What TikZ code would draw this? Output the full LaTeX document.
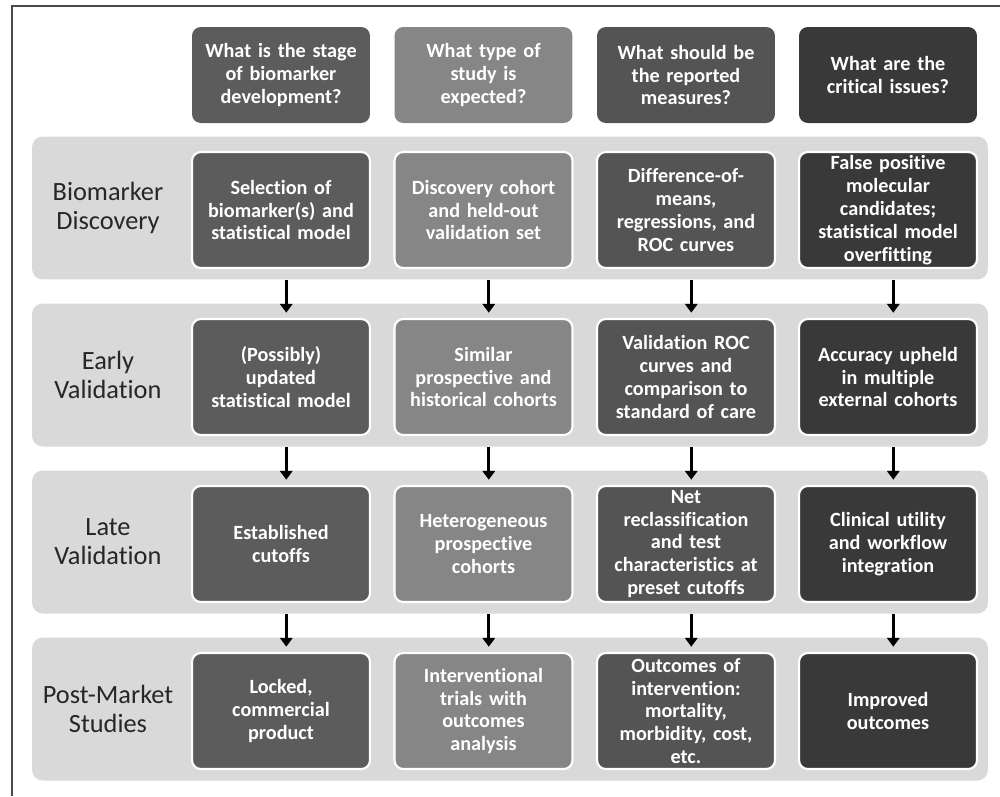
\documentclass[tikz,border=0pt]{standalone}
\usepackage{fontspec}
\setmainfont{Carlito}[Ligatures={NoCommon,NoContextual}]
\usetikzlibrary{arrows.meta, positioning}
\definecolor{colone}{HTML}{5C5C5C}
\definecolor{coltwo}{HTML}{868686}
\definecolor{colthree}{HTML}{545454}
\definecolor{colfour}{HTML}{393939}
\definecolor{bandcol}{HTML}{D9D9D9}
\definecolor{framecol}{HTML}{4A4A4A}
\tikzset{
  qnode/.style={rectangle, rounded corners=5pt, minimum width=3.56cm, minimum height=1.92cm, text width=3.3cm, align=center, inner sep=0pt, font=\bfseries\fontsize{11.5}{13}\selectfont, text=white},
  cnode/.style={rectangle, rounded corners=5pt, draw=white, line width=1.2pt, minimum width=3.56cm, minimum height=2.32cm, text width=3.3cm, align=center, inner sep=0pt, font=\bfseries\fontsize{11.5}{13}\selectfont, text=white},
  bnode/.style={rectangle, rounded corners=6pt, fill=bandcol, minimum width=19.12cm, minimum height=2.86cm, inner sep=0pt},
  lnode/.style={align=center, font=\fontsize{15}{16.5}\selectfont, text=black!85},
  arr/.style={-{Triangle[width=7pt,length=5pt]}, line width=1.8pt, shorten <=6.5pt, shorten >=3pt},
}

\begin{document}
\begin{tikzpicture}[x=0.02cm, y=-0.02cm]
  \useasboundingbox (0,0) rectangle (1000,796);
  \draw[framecol, line width=0.8pt] (12,796) -- (12,6) -- (1000,6);
  % questions
  \node[qnode, fill=colone]   (q1) at (281,75)   {What is the stage\\of biomarker\\development?};
  \node[qnode, fill=coltwo]   (q2) at (483.5,75) {What type of\\study is\\expected?};
  \node[qnode, fill=colthree] (q3) at (686,75)   {What should be\\the reported\\measures?};
  \node[qnode, fill=colfour]  (q4) at (888,75)   {What are the\\critical issues?};
  % bands
  \node[bnode] (band1) at (510,208) {};
  \node[bnode] (band2) at (510,375) {};
  \node[bnode] (band3) at (510,542) {};
  \node[bnode] (band4) at (510,709) {};
  \node[lnode] (l1) at (108,208) {Biomarker\\Discovery};
  \node[lnode] (l2) at (108,375) {Early\\Validation};
  \node[lnode] (l3) at (108,542) {Late\\Validation};
  \node[lnode] (l4) at (108,709) {Post-Market\\Studies};
  % discovery
  \node[cnode, fill=colone]   (r1c1) at (281,210)   {Selection of\\biomarker(s) and\\statistical model};
  \node[cnode, fill=coltwo]   (r1c2) at (483.5,210) {Discovery cohort\\and held-out\\validation set};
  \node[cnode, fill=colthree] (r1c3) at (686,210)   {Difference-of-\\means,\\regressions, and\\ROC curves};
  \node[cnode, fill=colfour]  (r1c4) at (888,210)   {False positive\\molecular\\candidates;\\statistical model\\overfitting};
  % early validation
  \node[cnode, fill=colone]   (r2c1) at (281,377)   {(Possibly)\\updated\\statistical model};
  \node[cnode, fill=coltwo]   (r2c2) at (483.5,377) {Similar\\prospective and\\historical cohorts};
  \node[cnode, fill=colthree] (r2c3) at (686,377)   {Validation ROC\\curves and\\comparison to\\standard of care};
  \node[cnode, fill=colfour]  (r2c4) at (888,377)   {Accuracy upheld\\in multiple\\external cohorts};
  % late validation
  \node[cnode, fill=colone]   (r3c1) at (281,544)   {Established\\cutoffs};
  \node[cnode, fill=coltwo]   (r3c2) at (483.5,544) {Heterogeneous\\prospective\\cohorts};
  \node[cnode, fill=colthree] (r3c3) at (686,544)   {Net\\reclassification\\and test\\characteristics at\\preset cutoffs};
  \node[cnode, fill=colfour]  (r3c4) at (888,544)   {Clinical utility\\and workflow\\integration};
  % post-market
  \node[cnode, fill=colone]   (r4c1) at (281,711)   {Locked,\\commercial\\product};
  \node[cnode, fill=coltwo]   (r4c2) at (483.5,711) {Interventional\\trials with\\outcomes\\analysis};
  \node[cnode, fill=colthree] (r4c3) at (686,711)   {Outcomes of\\intervention:\\mortality,\\morbidity, cost,\\etc.};
  \node[cnode, fill=colfour]  (r4c4) at (888,711)   {Improved\\outcomes};
  % arrows
  \draw[arr] ([xshift=3pt]r1c1.south) -- ([xshift=3pt]r2c1.north);
  \draw[arr] ([xshift=3pt]r1c2.south) -- ([xshift=3pt]r2c2.north);
  \draw[arr] ([xshift=3pt]r1c3.south) -- ([xshift=3pt]r2c3.north);
  \draw[arr] ([xshift=3pt]r1c4.south) -- ([xshift=3pt]r2c4.north);
  \draw[arr] ([xshift=3pt]r2c1.south) -- ([xshift=3pt]r3c1.north);
  \draw[arr] ([xshift=3pt]r2c2.south) -- ([xshift=3pt]r3c2.north);
  \draw[arr] ([xshift=3pt]r2c3.south) -- ([xshift=3pt]r3c3.north);
  \draw[arr] ([xshift=3pt]r2c4.south) -- ([xshift=3pt]r3c4.north);
  \draw[arr] ([xshift=3pt]r3c1.south) -- ([xshift=3pt]r4c1.north);
  \draw[arr] ([xshift=3pt]r3c2.south) -- ([xshift=3pt]r4c2.north);
  \draw[arr] ([xshift=3pt]r3c3.south) -- ([xshift=3pt]r4c3.north);
  \draw[arr] ([xshift=3pt]r3c4.south) -- ([xshift=3pt]r4c4.north);
\end{tikzpicture}
\end{document}
